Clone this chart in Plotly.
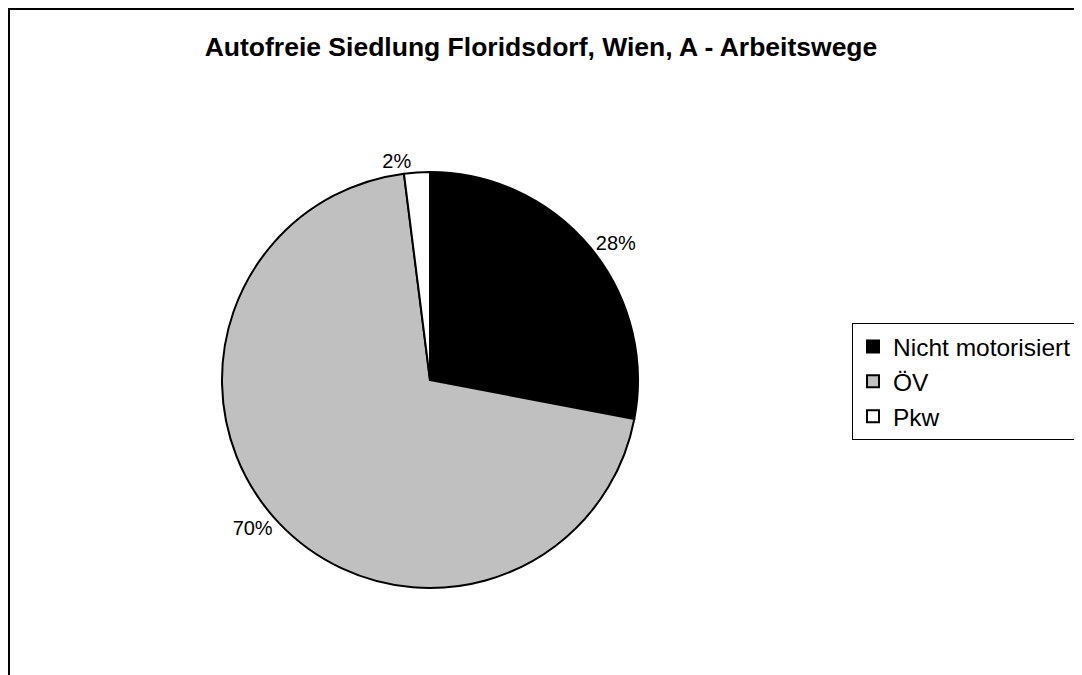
import plotly.graph_objects as go

labels = ["Nicht motorisiert", "ÖV", "Pkw"]
values = [28, 70, 2]
colors = ["#000000", "#c0c0c0", "#ffffff"]
title = "Autofreie Siedlung Floridsdorf, Wien, A - Arbeitswege"

W, H = 1082, 675
off = 8  # page body margin offset
cx, cy, r = 430 - off, 380 - off, 208

fig = go.Figure(go.Pie(
    labels=labels, values=values, sort=False, direction="clockwise", rotation=0,
    marker=dict(colors=colors, line=dict(color="#000000", width=2)),
    textinfo="percent", textposition="outside",
    textfont=dict(family="Liberation Sans, Arial", size=20, color="#000000"),
    domain=dict(x=[(cx - r) / W, (cx + r) / W],
                y=[(H - cy - r) / H, (H - cy + r) / H]),
    showlegend=True,
))

fig.update_layout(
    width=W, height=H,
    margin=dict(l=0, r=0, t=0, b=0, autoexpand=False),
    paper_bgcolor="#ffffff",
    font=dict(family="Liberation Sans, Arial", color="#000000"),
    title=dict(text="<b>" + title + "</b>", x=(541 - off) / W, xanchor="center",
               y=1 - (47 - off) / H, yanchor="middle",
               font=dict(size=26.5, family="Liberation Sans, Arial", color="#000000")),
    legend=dict(x=(852 - off) / W, xanchor="left", y=1 - (323 - off) / H, yanchor="top",
                bordercolor="#000000", borderwidth=1, bgcolor="#ffffff",
                font=dict(size=24.5, family="Liberation Sans, Arial", color="#000000"),
                tracegroupgap=0, itemwidth=30),
    shapes=[dict(type="rect", xref="paper", yref="paper",
                 x0=1 / W, x1=1.02, y0=-0.02, y1=1 - 1 / H,
                 line=dict(color="#000000", width=2), fillcolor="rgba(0,0,0,0)")],
)

fig.write_html("out.html")
